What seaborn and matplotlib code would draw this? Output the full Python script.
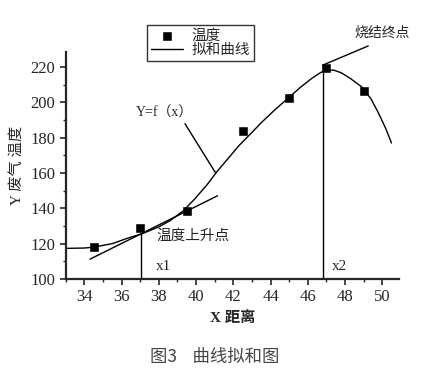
import seaborn as sns
import pandas as pd
import matplotlib.pyplot as plt

# measured temperature points
dist = [34.5, 37.0, 39.5, 42.5, 45.0, 47.0, 49.0]
temp = [118.0, 129.0, 138.5, 184.0, 202.3, 219.6, 206.6]

# fitted curve
fit_x = [33.0, 34.0, 34.5, 35.5, 36.3, 37.1, 38.0, 38.6, 39.3, 39.9, 40.6, 41.1, 41.7,
         42.3, 43.0, 43.5, 44.2, 44.9, 45.6, 46.2, 46.7, 47.0, 47.4, 47.8, 48.3, 48.9,
         49.4, 49.8, 50.2, 50.5]
fit_y = [117.3, 117.5, 118.0, 120.0, 123.0, 125.6, 129.5, 133.0, 138.5, 145.0, 153.5, 160.5, 168.0,
         175.5, 183.0, 188.5, 195.5, 202.0, 208.5, 213.5, 217.0, 218.3, 218.3, 216.8, 213.5, 208.8,
         202.0, 194.0, 185.0, 177.0]

# tangent at the rise point, marker lines
tan_x = [34.3, 41.15]
tan_y = [111.2, 147.1]
x1, y1 = 37.06, 125.5
x2, y2 = 46.8, 221.1
end_x = [46.8, 49.25]
end_y = [221.1, 232.0]

sns.set_theme(style='ticks')
plt.rcParams['font.family'] = ['Liberation Serif', 'Noto Sans CJK SC']
plt.rcParams['axes.linewidth'] = 1.6

fig = plt.figure(figsize=(4.36, 3.89), dpi=100)
ax = fig.add_axes([0.151, 0.283, 0.764, 0.583])

pts = pd.DataFrame({'x': dist, 'y': temp})
fit = pd.DataFrame({'x': fit_x, 'y': fit_y})

sns.lineplot(data=fit, x='x', y='y', ax=ax, color='black', lw=1.0, sort=False,
             label='拟和曲线', zorder=2)
sns.scatterplot(data=pts, x='x', y='y', ax=ax, marker='s', color='black', s=28,
                edgecolor='black', label='温度', zorder=3)

ax.plot(tan_x, tan_y, color='black', lw=1.0)
ax.plot([x1, x1], [100, y1], color='black', lw=1.0)
ax.plot([x2, x2], [100, y2], color='black', lw=1.0)
ax.plot(end_x, end_y, color='black', lw=1.0, clip_on=False)
ax.plot([39.4, 41.05], [188.0, 160.0], color='black', lw=1.0)

ax.text(38.3, 194, 'Y=f（x）', ha='center', va='center', fontsize=10)
ax.text(50.0, 239.5, '烧结终点', ha='center', va='center', fontsize=10)
ax.text(37.85, 124.2, '温度上升点', ha='left', va='center', fontsize=10.5, color='#222222')
ax.text(37.85, 107, 'x1', ha='left', va='center', fontsize=11)
ax.text(47.28, 107, 'x2', ha='left', va='center', fontsize=11)

ax.set_xlim(33, 50.9)
ax.set_ylim(100, 228.5)
ax.set_xticks(range(34, 51, 2))
ax.set_yticks(range(100, 221, 20))
ax.set_xticks(range(33, 51), minor=True)
ax.set_yticks(range(100, 229, 10), minor=True)
ax.tick_params(axis='both', which='major', labelsize=12, length=4, width=1.2, direction='out')
ax.tick_params(axis='both', which='minor', length=2.5, width=1.0, direction='out')
sns.despine(ax=ax)

ax.set_xlabel('X 距离', fontsize=11, fontweight='bold', labelpad=4)
ax.set_ylabel('Y 废气 温度', fontsize=11, labelpad=4)

handles, labels = ax.get_legend_handles_labels()
order = [labels.index('温度'), labels.index('拟和曲线')]
leg = ax.legend([handles[i] for i in order], [labels[i] for i in order],
                loc='upper left', bbox_to_anchor=(0.337, 0.935), bbox_transform=fig.transFigure,
                fontsize=10.5, frameon=True, fancybox=False, edgecolor='black',
                handlelength=2.2, handletextpad=0.6, borderpad=0.25, labelspacing=0.1,
                borderaxespad=0)
leg.get_frame().set_linewidth(1.0)

fig.text(0.493, 1 - 357 / 389, '图3    曲线拟和图', ha='center', va='center',
         fontsize=12.5, color='#444444', family=['Noto Sans CJK SC'])

fig.savefig('out.png', dpi=100)
